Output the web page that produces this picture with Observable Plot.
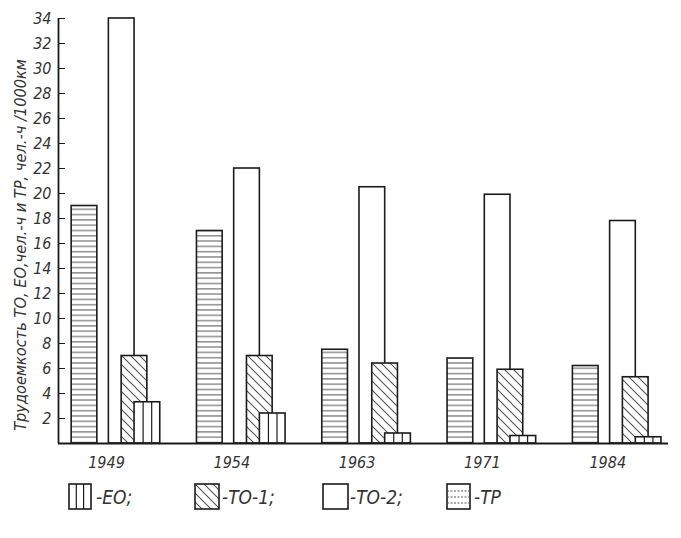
<!DOCTYPE html>
<html>
<head>
<meta charset="utf-8">
<script src="https://cdn.jsdelivr.net/npm/d3@7"></script>
<script src="https://cdn.jsdelivr.net/npm/@observablehq/plot@0.6"></script>
<style>
  body { margin: 0; background: #fff; }
  #chart { position: relative; width: 681px; height: 538px; background: #fff;
    font-family: "Liberation Sans Narrow", "DejaVu Sans Condensed", "Roboto", sans-serif;
    font-style: italic; color: #333; }
  .leg { position: absolute; top: 483px; display: flex; align-items: center; }
  .leg span { font-size: 19px; margin-left: 1px; color: #333; }
</style>
</head>
<body>
<div id="chart"></div>
<script>
// ---- data ----
const years = ["1949", "1954", "1963", "1971", "1984"];
const tp  = [19, 17, 7.5, 6.8, 6.2];       // ТР   – horizontal hatch
const to2 = [34, 22, 20.5, 19.9, 17.8];    // ТО-2 – empty
const to1 = [7, 7, 6.4, 5.9, 5.3];         // ТО-1 – diagonal hatch
const eo  = [3.3, 2.4, 0.8, 0.6, 0.5];     // ЕО   – vertical hatch
const yTicks = d3.range(2, 35, 2);
const yLabel = "Трудоемкость ТО, ЕО,чел.-ч и ТР, чел.-ч /1000км";
const legendLabels = ["-ЕО;", "-ТО-1;", "-ТО-2;", "-ТР"];

// ---- layout (in group units) ----
const off = { tp: 0.105, to2: 0.402, to1: 0.504, eo: 0.607 };
const bw = 0.205;
const labelOff = 0.383;
const ink = "#1b1b1b";
const font = "'Liberation Sans Narrow', 'DejaVu Sans Condensed', Roboto, sans-serif";

const rows = years.map((y, i) => ({ i, year: y, tp: tp[i], to2: to2[i], to1: to1[i], eo: eo[i] }));

const bar = (key, fill) => Plot.rectY(rows, {
  x1: d => d.i + off[key], x2: d => d.i + off[key] + bw,
  y1: 0, y2: d => d[key], fill, stroke: ink, strokeWidth: 1.6
});

const eoLines = rows.flatMap(d => [1 / 3, 2 / 3].map(f => ({ x: d.i + off.eo + bw * f, v: d.eo })));

const svg = Plot.plot({
  width: 681, height: 470,
  marginLeft: 58, marginRight: 13, marginTop: 18, marginBottom: 27,
  style: { fontFamily: font, fontStyle: "italic", fontSize: "15px", color: "#333", background: "#fff", overflow: "visible" },
  x: { type: "linear", domain: [0, 4.868], axis: null },
  y: { domain: [0, 34], axis: null },
  marks: [
    bar("tp", "url(#hatchH)"),
    bar("to2", "#fff"),
    bar("to1", "url(#hatchD)"),
    bar("eo", "#fff"),
    Plot.ruleX(eoLines, { x: "x", y1: 0, y2: "v", stroke: ink, strokeWidth: 1.2 }),
    Plot.ruleY([0], { stroke: ink, strokeWidth: 1.8 }),
    Plot.ruleX([0], { stroke: ink, strokeWidth: 1.8 }),
    Plot.axisY({ ticks: yTicks, tickSize: -7, tickPadding: 14, label: null, fontSize: 16, stroke: ink }),
    Plot.text(rows, { x: d => d.i + labelOff, y: 0, text: "year", dy: 19, fontSize: 16, fill: "#333" }),
    Plot.text([yLabel], { frameAnchor: "left", textAnchor: "middle", rotate: -90, dx: -38, dy: 14, fontSize: 16, fill: "#333" })
  ]
});

d3.select(svg).insert("defs", ":first-child").html(`
  <pattern id="hatchH" patternUnits="userSpaceOnUse" width="6" height="5.3">
    <rect width="6" height="5.3" fill="#fff"/>
    <line x1="0" y1="2.6" x2="6" y2="2.6" stroke="#555" stroke-width="1"/>
  </pattern>
  <pattern id="hatchD" patternUnits="userSpaceOnUse" width="9" height="9">
    <rect width="9" height="9" fill="#fff"/>
    <path d="M0,0L9,9M-1,8L1,10M8,-1L10,1" stroke="#555" stroke-width="1.1"/>
  </pattern>`);

const chart = document.getElementById("chart");
chart.appendChild(svg);

// squeeze the rotated axis title along its own direction to the reference length
svg.querySelectorAll("text").forEach(t => {
  if (t.textContent === yLabel) {
    const len = t.getComputedTextLength();
    const k = 372 / len;
    const tr = t.getAttribute("transform") || "";
    t.setAttribute("transform", tr + ` scale(${k},1)`);
  }
});

// ---- legend below the SVG ----
const swatches = [
  `<rect x="1" y="1" width="22" height="25" fill="#fff" stroke="${ink}" stroke-width="1.6"/><line x1="8.3" y1="1" x2="8.3" y2="26" stroke="${ink}" stroke-width="1.2"/><line x1="15.6" y1="1" x2="15.6" y2="26" stroke="${ink}" stroke-width="1.2"/>`,
  `<rect x="1" y="1" width="24" height="25" fill="url(#hatchD)" stroke="${ink}" stroke-width="1.6"/>`,
  `<rect x="1" y="1" width="25" height="25" fill="#fff" stroke="${ink}" stroke-width="1.6"/>`,
  `<rect x="1" y="1" width="23" height="25" fill="#fff" stroke="${ink}" stroke-width="1.6"/><line x1="1" y1="8" x2="24" y2="8" stroke="#555" stroke-dasharray="2,1.5"/><line x1="1" y1="14" x2="24" y2="14" stroke="#555" stroke-dasharray="2,1.5"/><line x1="1" y1="20" x2="24" y2="20" stroke="#555" stroke-dasharray="2,1.5"/>`
];
const legLeft = [68, 194, 322, 446];
legendLabels.forEach((lab, k) => {
  const d = document.createElement("div");
  d.className = "leg";
  d.style.left = legLeft[k] + "px";
  d.innerHTML = `<svg width="27" height="27">${swatches[k]}</svg><span>${lab}</span>`;
  chart.appendChild(d);
});
</script>
</body>
</html>
